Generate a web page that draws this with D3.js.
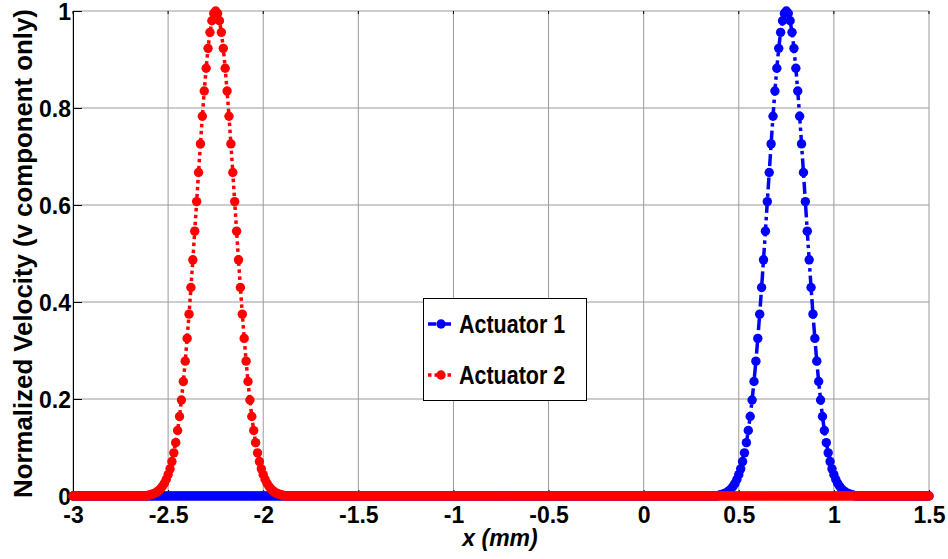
<!DOCTYPE html>
<html><head><meta charset="utf-8">
<script src="https://cdn.jsdelivr.net/npm/d3@7"></script>
<style>body{margin:0;background:#fff}svg{display:block}text{font-family:"Liberation Sans",Arial,sans-serif;font-weight:bold}</style>
</head><body>
<script>
// ---- data ----
const xTicks = [-3, -2.5, -2, -1.5, -1, -0.5, 0, 0.5, 1, 1.5];
const xTickLabels = ["-3", "-2.5", "-2", "-1.5", "-1", "-0.5", "0", "0.5", "1", "1.5"];
const yTicks = [0, 0.2, 0.4, 0.6, 0.8, 1];
const yTickLabels = ["0", "0.2", "0.4", "0.6", "0.8", "1"];
const sampleStart = -3, sampleStep = 0.01, sampleCount = 451;   // x sampling of both series (mm)
// Actuator 1: values read at x = 0.40 ... 1.10 (zero elsewhere)
const act1PeakStart = 0.40;
const act1Peak = [0.002,0.003,0.004,0.006,0.008,0.011,0.015,0.020,0.026,0.034,0.044,0.056,0.071,0.089,0.110,0.135,0.164,0.198,0.236,0.278,0.325,0.375,0.430,0.487,0.546,0.607,0.667,0.726,0.783,0.835,0.882,0.923,0.956,0.980,0.995,1.000,
  0.995,0.980,0.956,0.923,0.882,0.835,0.783,0.726,0.667,0.607,0.546,0.487,0.430,0.375,0.325,0.278,0.236,0.198,0.164,0.135,0.110,0.089,0.071,0.056,0.044,0.034,0.026,0.020,0.015,0.011,0.008,0.006,0.004,0.003,0.002];
// Actuator 2: values read at x = -2.60 ... -1.90 (zero elsewhere)
const act2PeakStart = -2.60;
const act2Peak = [0.002,0.003,0.004,0.006,0.008,0.011,0.015,0.020,0.026,0.034,0.044,0.056,0.071,0.089,0.110,0.135,0.164,0.198,0.236,0.278,0.325,0.375,0.430,0.487,0.546,0.607,0.667,0.726,0.783,0.835,0.882,0.923,0.956,0.980,0.995,1.000,
  0.995,0.980,0.956,0.923,0.882,0.835,0.783,0.726,0.667,0.607,0.546,0.487,0.430,0.375,0.325,0.278,0.236,0.198,0.164,0.135,0.110,0.089,0.071,0.056,0.044,0.034,0.026,0.020,0.015,0.011,0.008,0.006,0.004,0.003,0.002];
const seriesNames = ["Actuator 1", "Actuator 2"];
const xLabel = "x (mm)";
const yLabel = "Normalized Velocity (v component only)";

function buildSeries(peakStart, peak) {
  const off = Math.round((peakStart - sampleStart) / sampleStep);
  return d3.range(sampleCount).map(i => {
    const j = i - off;
    return { x: +(sampleStart + i * sampleStep).toFixed(2), y: (j >= 0 && j < peak.length) ? peak[j] : 0 };
  });
}
const act1 = buildSeries(act1PeakStart, act1Peak);
const act2 = buildSeries(act2PeakStart, act2Peak);

// ---- layout ----
const W = 948, H = 559;
const L = 73, R = 929, T = 11, B = 496;
const svg = d3.select("body").append("svg").attr("width", W).attr("height", H);
const x = d3.scaleLinear().domain([-3, 1.5]).range([L, R]);
const y = d3.scaleLinear().domain([0, 1]).range([B, T]);

// grid
const g = svg.append("g");
g.selectAll(".gx").data(xTicks).join("line")
  .attr("x1", d => x(d)).attr("x2", d => x(d)).attr("y1", T).attr("y2", B)
  .attr("stroke", "#9a9a9a").attr("stroke-width", 1);
g.selectAll(".gy").data(yTicks).join("line")
  .attr("x1", L).attr("x2", R).attr("y1", d => y(d)).attr("y2", d => y(d))
  .attr("stroke", "#9a9a9a").attr("stroke-width", 1);

// axes
const xAxis = d3.axisBottom(x).tickValues(xTicks).tickFormat((d, i) => xTickLabels[i]).tickSizeInner(-6).tickSizeOuter(0).tickPadding(11);
const yAxis = d3.axisLeft(y).tickValues(yTicks).tickFormat((d, i) => yTickLabels[i]).tickSizeInner(-9).tickSizeOuter(0).tickPadding(2);
const gx = svg.append("g").attr("transform", `translate(0,${B})`).call(xAxis);
const gy = svg.append("g").attr("transform", `translate(${L},0)`).call(yAxis);
[gx, gy].forEach(a => {
  a.select(".domain").attr("stroke", "#000").attr("stroke-width", 1);
  a.selectAll(".tick line").attr("stroke", "#000");
  a.selectAll(".tick text").attr("fill", "#000").style("font-size", "23px").style("font-weight", "bold")
   .style("font-family", '"Liberation Sans",Arial,sans-serif');
});
gy.selectAll(".tick text").attr("dy", "0.36em");
// small top tick marks
svg.append("g").selectAll("line").data(xTicks).join("line")
  .attr("x1", d => x(d)).attr("x2", d => x(d)).attr("y1", T).attr("y2", T + 3)
  .attr("stroke", "#000");

// labels
svg.append("text").attr("x", 500).attr("y", 546).attr("text-anchor", "middle")
  .style("font-size", "23px").style("font-style", "italic").text(xLabel);
svg.append("text").attr("transform", `translate(32,${(T + B) / 2}) rotate(-90)`).attr("text-anchor", "middle")
  .style("font-size", "25.8px").text(yLabel);

// series
const line = d3.line().x(d => x(d.x)).y(d => y(d.y));
const styles = [
  { data: act1, color: "#0000ff", dash: "12,4,3.5,4" },
  { data: act2, color: "#ff0000", dash: "3.5,3.5" }
];
styles.forEach(s => {
  svg.append("path").datum(s.data).attr("d", line).attr("fill", "none")
    .attr("stroke", s.color).attr("stroke-width", 3.5).attr("stroke-dasharray", s.dash);
  svg.append("g").selectAll("circle").data(s.data).join("circle")
    .attr("cx", d => x(d.x)).attr("cy", d => y(d.y)).attr("r", 4.7).attr("fill", s.color);
});

// legend
const lg = svg.append("g");
lg.append("rect").attr("x", 423.5).attr("y", 298.5).attr("width", 163).attr("height", 102)
  .attr("fill", "#fff").attr("stroke", "#000").attr("stroke-width", 1);
const legY = [324, 375];
styles.forEach((s, i) => {
  lg.append("line").attr("x1", 428).attr("x2", 451).attr("y1", legY[i]).attr("y2", legY[i])
    .attr("stroke", s.color).attr("stroke-width", 3.5).attr("stroke-dasharray", i === 0 ? "8,2,3,2" : "3.5,3");
  lg.append("circle").attr("cx", 441).attr("cy", legY[i]).attr("r", 4.7).attr("fill", s.color);
  lg.append("text").attr("transform", `translate(459,${legY[i] + 9}) scale(0.86,1)`).style("font-size", "25px").text(seriesNames[i]);
});
</script>
</body></html>
